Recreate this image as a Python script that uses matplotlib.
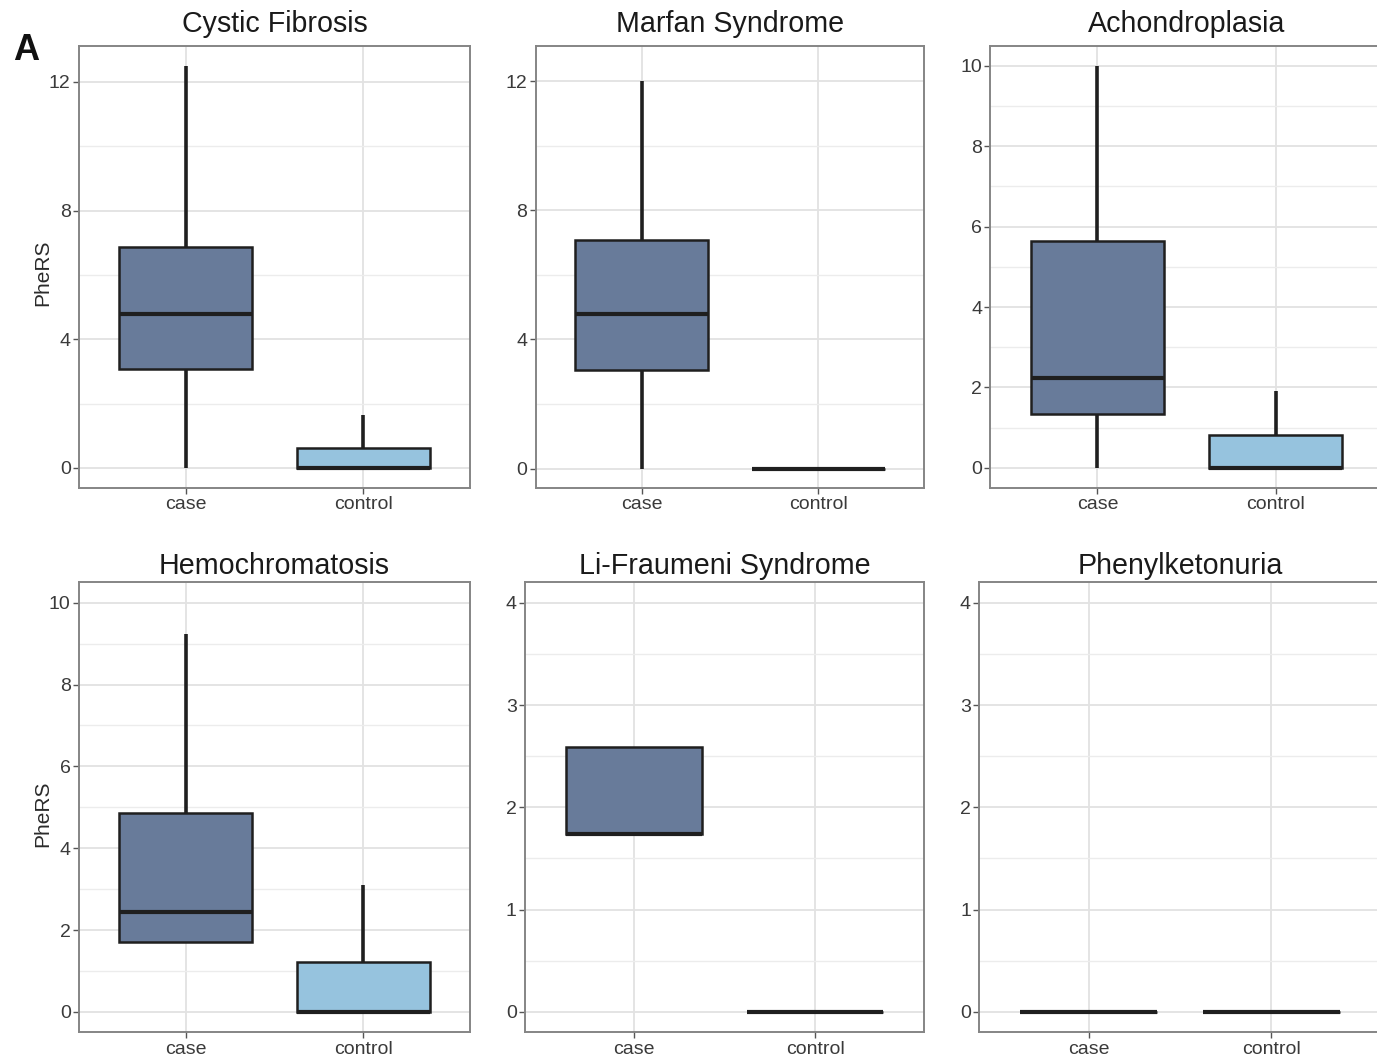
import matplotlib
matplotlib.use("Agg")
import matplotlib.pyplot as plt
from matplotlib.ticker import FixedLocator

plt.rcParams['font.family'] = ['Liberation Sans', 'DejaVu Sans']

# ---------------- data ----------------
diseases = ["Cystic Fibrosis", "Marfan Syndrome", "Achondroplasia",
            "Hemochromatosis", "Li-Fraumeni Syndrome", "Phenylketonuria"]
groups = ["case", "control"]

case_whislo = [0.0, 0.0, 0.0, 1.70, 1.74, 0.0]
case_q1     = [3.06, 3.06, 1.34, 1.70, 1.74, 0.0]
case_med    = [4.77, 4.78, 2.24, 2.45, 1.74, 0.0]
case_q3     = [6.88, 7.08, 5.65, 4.85, 2.59, 0.0]
case_whishi = [12.5, 12.0, 10.0, 9.23, 2.59, 0.0]

control_whislo = [0.0, 0.0, 0.0, 0.0, 0.0, 0.0]
control_q1     = [0.0, 0.0, 0.0, 0.0, 0.0, 0.0]
control_med    = [0.0, 0.0, 0.0, 0.0, 0.0, 0.0]
control_q3     = [0.62, 0.0, 0.81, 1.22, 0.0, 0.0]
control_whishi = [1.63, 0.0, 1.91, 3.10, 0.0, 0.0]

y_major = [[0, 4, 8, 12], [0, 4, 8, 12], [0, 2, 4, 6, 8, 10],
           [0, 2, 4, 6, 8, 10], [0, 1, 2, 3, 4], [0, 1, 2, 3, 4]]

# ---------------- layout / style ----------------
W, H = 1377, 1055
panel_px = [  # left, top, right, bottom in pixels
    (79, 45.7, 470, 488),
    (535.7, 45.7, 924.3, 488),
    (990.5, 45.7, 1382.5, 488),
    (79, 582.3, 470, 1032.3),
    (525, 582.3, 924.3, 1032.3),
    (979.3, 582.3, 1381, 1032.3),
]
ylims = [(-0.625, 13.125), (-0.6, 13.1), (-0.5, 10.5),
         (-0.5, 10.5), (-0.2, 4.2), (-0.2, 4.2)]
title_y_px = [24, 24, 24, 566, 566, 566]

case_color = "#687B9A"
control_color = "#96C3DE"
edge = "#1F1F1F"

fig = plt.figure(figsize=(W / 100, H / 100), dpi=100)

for i, name in enumerate(diseases):
    l, t, r, b = panel_px[i]
    ax = fig.add_axes([l / W, 1 - b / H, (r - l) / W, (b - t) / H])
    stats = [
        dict(whislo=case_whislo[i], q1=case_q1[i], med=case_med[i],
             q3=case_q3[i], whishi=case_whishi[i], label=groups[0]),
        dict(whislo=control_whislo[i], q1=control_q1[i], med=control_med[i],
             q3=control_q3[i], whishi=control_whishi[i], label=groups[1]),
    ]
    bp = ax.bxp(stats, positions=[1, 2], widths=0.75, patch_artist=True,
                showcaps=False, showfliers=False,
                boxprops=dict(edgecolor=edge, linewidth=1.8),
                whiskerprops=dict(color=edge, linewidth=2.6, solid_capstyle='butt'),
                medianprops=dict(color=edge, linewidth=3.0, solid_capstyle='butt'),
                zorder=3)
    for patch, c in zip(bp['boxes'], [case_color, control_color]):
        patch.set_facecolor(c)

    ax.set_xlim(0.4, 2.6)
    ax.set_ylim(*ylims[i])
    ax.yaxis.set_major_locator(FixedLocator(y_major[i]))
    step = y_major[i][1] - y_major[i][0]
    minors = [v + step / 2 for v in y_major[i][:-1]]
    if ylims[i][1] > y_major[i][-1] + step / 2:
        minors.append(y_major[i][-1] + step / 2)
    ax.yaxis.set_minor_locator(FixedLocator(minors))
    ax.set_xticks([1, 2])
    ax.set_xticklabels(groups)

    ax.grid(True, which='major', color='#E2E2E2', linewidth=1.3, zorder=0)
    ax.grid(True, which='minor', axis='y', color='#ECECEC', linewidth=1.0, zorder=0)
    ax.set_axisbelow(True)
    for s in ax.spines.values():
        s.set_color('#858585')
        s.set_linewidth(1.4)
    ax.tick_params(axis='both', which='major', length=4, width=1.0,
                   color='#555555', labelsize=14, labelcolor='#3A3A3A', pad=2)
    ax.tick_params(axis='y', which='minor', length=0)

    fig.text((l + r) / 2 / W, 1 - title_y_px[i] / H, name, ha='center',
             va='center', fontsize=20.6, color='#1A1A1A')

    if i in (0, 3):
        fig.text(43 / W, 1 - ((t + b) / 2 + 6) / H, "PheRS", rotation=90,
                 ha='center', va='center', fontsize=15, color='#2A2A2A')

fig.text(26 / W, 1 - 50 / H, "A", ha='center', va='center', fontsize=26,
         fontweight='bold', color='#111111')

fig.savefig("out.png", dpi=100)
